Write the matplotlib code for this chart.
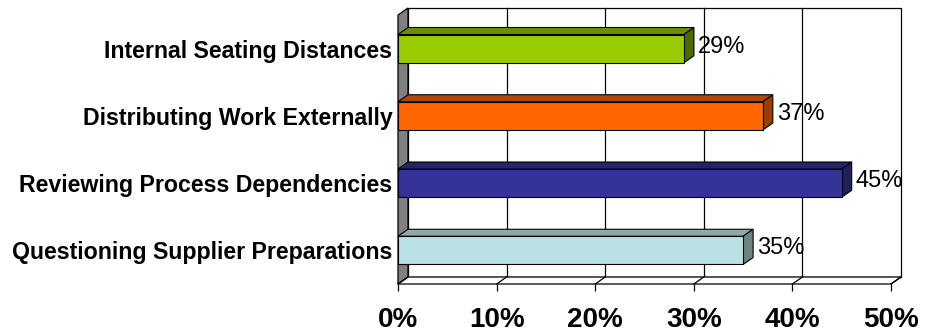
"""Horizontal 3D-style bar chart of survey responses."""
import matplotlib
matplotlib.use('Agg')
import matplotlib.pyplot as plt
from matplotlib.patches import Polygon

plt.rcParams['font.family'] = ['Liberation Sans', 'DejaVu Sans']

categories = [
    'Internal Seating Distances',
    'Distributing Work Externally',
    'Reviewing Process Dependencies',
    'Questioning Supplier Preparations',
]
values = [0.29, 0.37, 0.45, 0.35]
front_colors = ['#99CC00', '#FF6600', '#333399', '#BBE0E3']
top_colors = ['#6B8F00', '#B34700', '#24246B', '#8FA9AB']
side_colors = ['#4F6B00', '#993D00', '#1F1F5C', '#6F8383']
x_ticks = [0, 0.1, 0.2, 0.3, 0.4, 0.5]
x_labels = ['0%', '10%', '20%', '30%', '40%', '50%']

W, H = 925, 333
fig = plt.figure(figsize=(W / 100, H / 100), dpi=100)
ax = fig.add_axes([398 / W, 49 / H, 493 / W, 269 / H])
xmin, xmax = 0, 0.5
ymin, ymax = -0.5, len(categories) - 0.5
ax.set_xlim(xmin, xmax)
ax.set_ylim(ymax, ymin)

# depth of the 3D effect, converted from pixels to data units
depth_px_x, depth_px_y = 10, 7
ddx = depth_px_x * (xmax - xmin) / 493
ddy = depth_px_y * (ymax - ymin) / 269

line_kw = dict(color='black', lw=0.9, clip_on=False)

# back wall
ax.add_patch(Polygon([(ddx, ymax - ddy), (xmax + ddx, ymax - ddy),
                      (xmax + ddx, ymin - ddy), (ddx, ymin - ddy)],
                     closed=True, facecolor='white', edgecolor='black',
                     lw=0.9, clip_on=False, zorder=1))
for t in x_ticks[1:-1]:
    ax.plot([t + ddx, t + ddx], [ymax - ddy, ymin - ddy], zorder=2, **line_kw)

# left wall
ax.add_patch(Polygon([(0, ymax), (0, ymin), (ddx, ymin - ddy), (ddx, ymax - ddy)],
                     closed=True, facecolor='#808080', edgecolor='black',
                     lw=0.9, clip_on=False, zorder=2))

# floor
ax.add_patch(Polygon([(0, ymax), (xmax, ymax), (xmax + ddx, ymax - ddy),
                      (ddx, ymax - ddy)],
                     closed=True, facecolor='white', edgecolor='black',
                     lw=0.9, clip_on=False, zorder=2))
for t in x_ticks:
    ax.plot([t, t + ddx], [ymax, ymax - ddy], zorder=2, **line_kw)

# bars: front face, top face and end face
bar_h = 0.42
ys = range(len(categories))
ax.barh(ys, values, height=bar_h, color=front_colors, edgecolor='black',
        linewidth=0.8, zorder=5)
for y, v, tc, sc in zip(ys, values, top_colors, side_colors):
    top = y - bar_h / 2
    bot = y + bar_h / 2
    ax.add_patch(Polygon([(0, top), (v, top), (v + ddx, top - ddy), (ddx, top - ddy)],
                         closed=True, facecolor=tc, edgecolor='black', lw=0.8,
                         zorder=4, clip_on=False))
    ax.add_patch(Polygon([(v, top), (v + ddx, top - ddy), (v + ddx, bot - ddy), (v, bot)],
                         closed=True, facecolor=sc, edgecolor='black', lw=0.8,
                         zorder=4, clip_on=False))
    ax.text(v + ddx + 0.004, y - 0.03, f'{v:.0%}', ha='left', va='center',
            fontsize=17, zorder=6)

for s in ax.spines.values():
    s.set_visible(False)

ax.set_yticks(list(ys))
ax.set_yticklabels(categories, fontsize=16.7, fontweight='bold')
ax.tick_params(axis='y', length=0, pad=4)
ax.set_xticks(x_ticks)
ax.set_xticklabels(x_labels, fontsize=20, fontweight='bold')
ax.tick_params(axis='x', length=5, width=0.9, direction='out', pad=11.5)

fig.savefig('out.png', dpi=100)
